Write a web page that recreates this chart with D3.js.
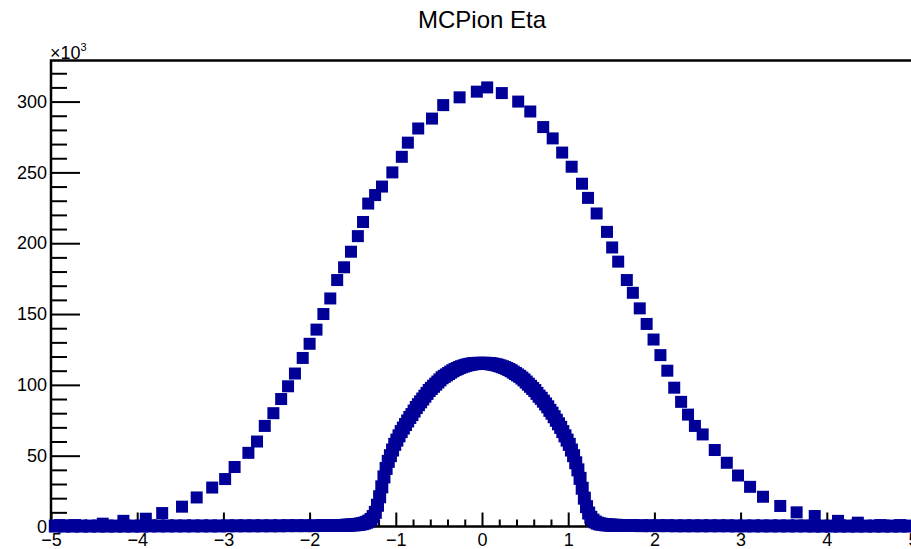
<!DOCTYPE html>
<html><head><meta charset="utf-8">
<script src="https://cdn.jsdelivr.net/npm/d3@7"></script>
<style>html,body{margin:0;padding:0;background:#fff;overflow:hidden}</style>
</head><body><svg id="c" width="911" height="549"></svg>
<script>
const title = "MCPion Eta";
const xTicks = [-5,-4,-3,-2,-1,0,1,2,3,4,5];
const yTicks = [0,50,100,150,200,250,300];
const yExponent = "3";

// outer series: eta, counts (x10^3)
const outerEta = [-4.90,-4.72,-4.40,-4.16,-3.90,-3.71,-3.48,-3.31,-3.13,-2.98,-2.87,-2.71,-2.61,-2.52,-2.42,-2.33,-2.25,-2.17,-2.08,-2.00,-1.92,-1.84,-1.76,-1.68,-1.60,-1.52,-1.44,-1.38,-1.32,-1.24,-1.16,-1.04,-0.93,-0.86,-0.74,-0.58,-0.45,-0.26,-0.06,0.06,0.23,0.42,0.56,0.71,0.82,0.93,1.04,1.16,1.23,1.33,1.45,1.51,1.58,1.68,1.75,1.83,1.91,1.99,2.07,2.15,2.23,2.31,2.39,2.47,2.56,2.70,2.84,2.97,3.11,3.26,3.46,3.65,3.86,4.13,4.36,4.62,4.85];
const outerVal = [1,1,2,4,5.5,9.5,14,20.5,27.5,33.5,42,52,60,71,80,90,99,108,119,129,139,150,161,174,183,194,205,215,228,234,240,250,261,271,281,288,297.5,303,307,310,306,300,293,282,274,264,254,242,232,221,208,197,187,174,165,154,143,132,121,110,98,88,79,71,65,54,45,36,28,21,14.5,10,7.4,4,2.7,1,1];

// inner series: core bins of width 0.025 from -1.6 to 1.6
const innerCore = [0.8,0.9,1.0,1.1,1.2,1.3,1.5,1.7,2.0,2.4,3.0,3.8,5,7,10,15,21,28,35,41,46,50,54,58,61,64,67,69.5,72,74.5,77,79,81.5,84,86,88,90,92,94,96,97.5,99,100.5,102,103.5,105,106,107,108,109,110,110.8,111.5,112.2,112.8,113.3,113.8,114.2,114.5,114.8,115,115.1,115.2,115.2,
115.2,115.2,115.1,115,114.8,114.5,114.2,113.8,113.3,112.8,112.2,111.5,110.8,110,109,108,107,106,104.8,103.5,102,100.5,99,97.5,96,94,92,90.5,88.5,86.5,84.5,82,80,77.5,75,72.5,70,67,64,61,58,54,50,45,40,34,27,20,14,9.5,6.5,4.5,3.2,2.4,1.9,1.6,1.4,1.2,1.1,1.0,0.9,0.8,0.8,0.7];
// inner tails: bins of width 0.1, -5..-1.6 and 1.6..5
const innerTailLow = [0.3,0.3,0.3,0.3,0.3,0.3,0.3,0.3,0.3,0.3,0.3,0.4,0.4,0.4,0.4,0.4,0.4,0.4,0.4,0.4,0.5,0.5,0.5,0.5,0.5,0.5,0.5,0.6,0.6,0.6,0.6,0.7,0.7,0.7];
const innerTailHigh = [0.7,0.7,0.6,0.6,0.6,0.6,0.5,0.5,0.5,0.5,0.5,0.5,0.5,0.4,0.4,0.4,0.4,0.4,0.4,0.4,0.4,0.4,0.3,0.3,0.3,0.3,0.3,0.3,0.3,0.3,0.3,0.3,0.3,0.3];

const FONT = "'Liberation Sans', Arial, Helvetica, sans-serif";
const COLOR = "#000099";
const svg = d3.select("#c");
const x = d3.scaleLinear().domain([-5,5]).range([51,913]);
const y = d3.scaleLinear().domain([0,329]).range([526.5,60.5]);

const fmt = d => (d < 0 ? "\u2212" + Math.abs(d) : String(d));

const yMinor = d3.range(0, 330, 10).filter(v => v % 50 !== 0);
const xMinor = d3.range(-50, 51, 2).map(v => v/10).filter(v => Math.abs(v - Math.round(v)) > 1e-9);

function styleAxis(g){
  g.select(".domain").remove();
  g.selectAll(".tick line").attr("stroke","#000").attr("stroke-width",2);
  g.selectAll(".tick text").attr("fill","#000").style("font-family",FONT).style("font-size","18px");
}

svg.append("g").attr("transform",`translate(0,${y(0)})`)
  .call(d3.axisBottom(x).tickValues(xMinor).tickSize(-7).tickFormat(""))
  .call(styleAxis);
svg.append("g").attr("transform",`translate(0,${y(0)})`)
  .call(d3.axisBottom(x).tickValues(xTicks).tickSize(-14).tickPadding(7).tickFormat(fmt))
  .call(styleAxis);
svg.append("g").attr("transform",`translate(${x(-5)},0)`)
  .call(d3.axisLeft(y).tickValues(yMinor).tickSize(-16).tickFormat(""))
  .call(styleAxis);
svg.append("g").attr("transform",`translate(${x(-5)},0)`)
  .call(d3.axisLeft(y).tickValues(yTicks).tickSize(-29).tickPadding(4).tickFormat(fmt))
  .call(styleAxis);

svg.append("rect").attr("x",x(-5)).attr("y",y(329)).attr("width",x(5)-x(-5)).attr("height",y(0)-y(329))
  .attr("fill","none").attr("stroke","#000").attr("stroke-width",2.5);

const ex = svg.append("text").attr("x",50).attr("y",59).style("font-family",FONT).style("font-size","18px").attr("fill","#000");
ex.append("tspan").text("\u00d710");
ex.append("tspan").attr("dy",-8).style("font-size","11px").text(yExponent);

svg.append("text").attr("x",482).attr("y",28).attr("text-anchor","middle")
  .style("font-family",FONT).style("font-size","24px").attr("fill","#000").text(title);

const innerPts = [];
innerTailLow.forEach((v,i)=>innerPts.push([-5 + 0.1*i + 0.05, v]));
innerCore.forEach((v,i)=>innerPts.push([-1.6 + 0.025*i + 0.0125, v]));
innerTailHigh.forEach((v,i)=>innerPts.push([1.6 + 0.1*i + 0.05, v]));
const outerPts = outerEta.map((e,i)=>[e, outerVal[i]]);

const S1 = 13, S2 = 12;
svg.append("g").selectAll("rect").data(innerPts).join("rect")
  .attr("x",d=>x(d[0])-S1/2).attr("y",d=>y(d[1])-S1/2).attr("width",S1).attr("height",S1).attr("fill",COLOR);
svg.append("g").selectAll("rect").data(outerPts).join("rect")
  .attr("x",d=>x(d[0])-S2/2).attr("y",d=>y(d[1])-S2/2).attr("width",S2).attr("height",S2).attr("fill",COLOR);
</script></body></html>
